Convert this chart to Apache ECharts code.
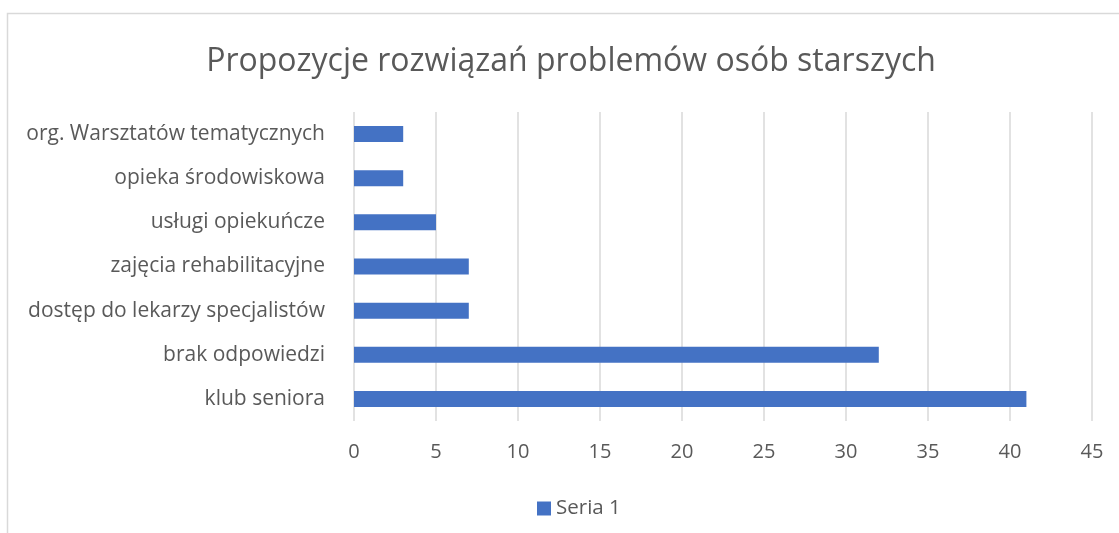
<!DOCTYPE html>
<html>
<head>
<meta charset="utf-8">
<script src="https://cdn.jsdelivr.net/npm/echarts@6/dist/echarts.min.js"></script>
<style>
  html, body { margin: 0; padding: 0; background: #fff; }
  #myChart { width: 1119px; height: 533px; }
</style>
</head>
<body>
<div id="myChart"></div>
<script>
// dane z wykresu (od dołu do góry)
const categories = [
  "klub seniora",
  "brak odpowiedzi",
  "dostęp do lekarzy specjalistów",
  "zajęcia rehabilitacyjne",
  "usługi opiekuńcze",
  "opieka środowiskowa",
  "org. Warsztatów tematycznych"
];
const seria1 = [41, 32, 7, 7, 5, 3, 3];
const xTicks = [0, 5, 10, 15, 20, 25, 30, 35, 40, 45];

const font = "'Open Sans', 'DejaVu Sans', sans-serif";

let chart = document.getElementById("myChart");
let myChart = echarts.init(chart);

let option = {
  animation: false,
  textStyle: { fontFamily: font },
  title: {
    text: "Propozycje rozwiązań problemów osób starszych",
    left: 566,
    top: 41,
    textAlign: "center",
    textStyle: { fontSize: 32, fontWeight: "normal", color: "#595959", fontFamily: font }
  },
  graphic: [
    {
      type: "rect",
      shape: { x: 7.5, y: 13.5, width: 1200, height: 600 },
      style: { fill: "none", stroke: "#d9d9d9", lineWidth: 1.5 },
      silent: true
    }
  ],
  legend: {
    data: ["Seria 1"],
    top: 493,
    left: 532,
    icon: "rect",
    itemWidth: 14,
    itemHeight: 14,
    itemGap: 5,
    textStyle: { fontSize: 20.5, color: "#595959", fontFamily: font }
  },
  grid: {
    left: 354,
    right: 27,
    top: 112,
    bottom: 112,
    containLabel: false
  },
  xAxis: {
    type: "value",
    min: xTicks[0],
    max: xTicks[xTicks.length - 1],
    interval: 5,
    axisLine: { show: false },
    axisTick: { show: false },
    splitLine: { show: true, lineStyle: { color: "#d9d9d9", width: 1.5 } },
    axisLabel: { fontSize: 20, color: "#595959", margin: 21, fontFamily: font }
  },
  yAxis: {
    type: "category",
    data: categories,
    axisLine: { show: false },
    axisTick: { show: false },
    axisLabel: { fontSize: 21, color: "#595959", margin: 29, fontFamily: font }
  },
  series: [
    {
      name: "Seria 1",
      type: "bar",
      data: seria1,
      barWidth: 16,
      itemStyle: { color: "#4472c4" }
    }
  ]
};

myChart.setOption(option);
</script>
</body>
</html>
